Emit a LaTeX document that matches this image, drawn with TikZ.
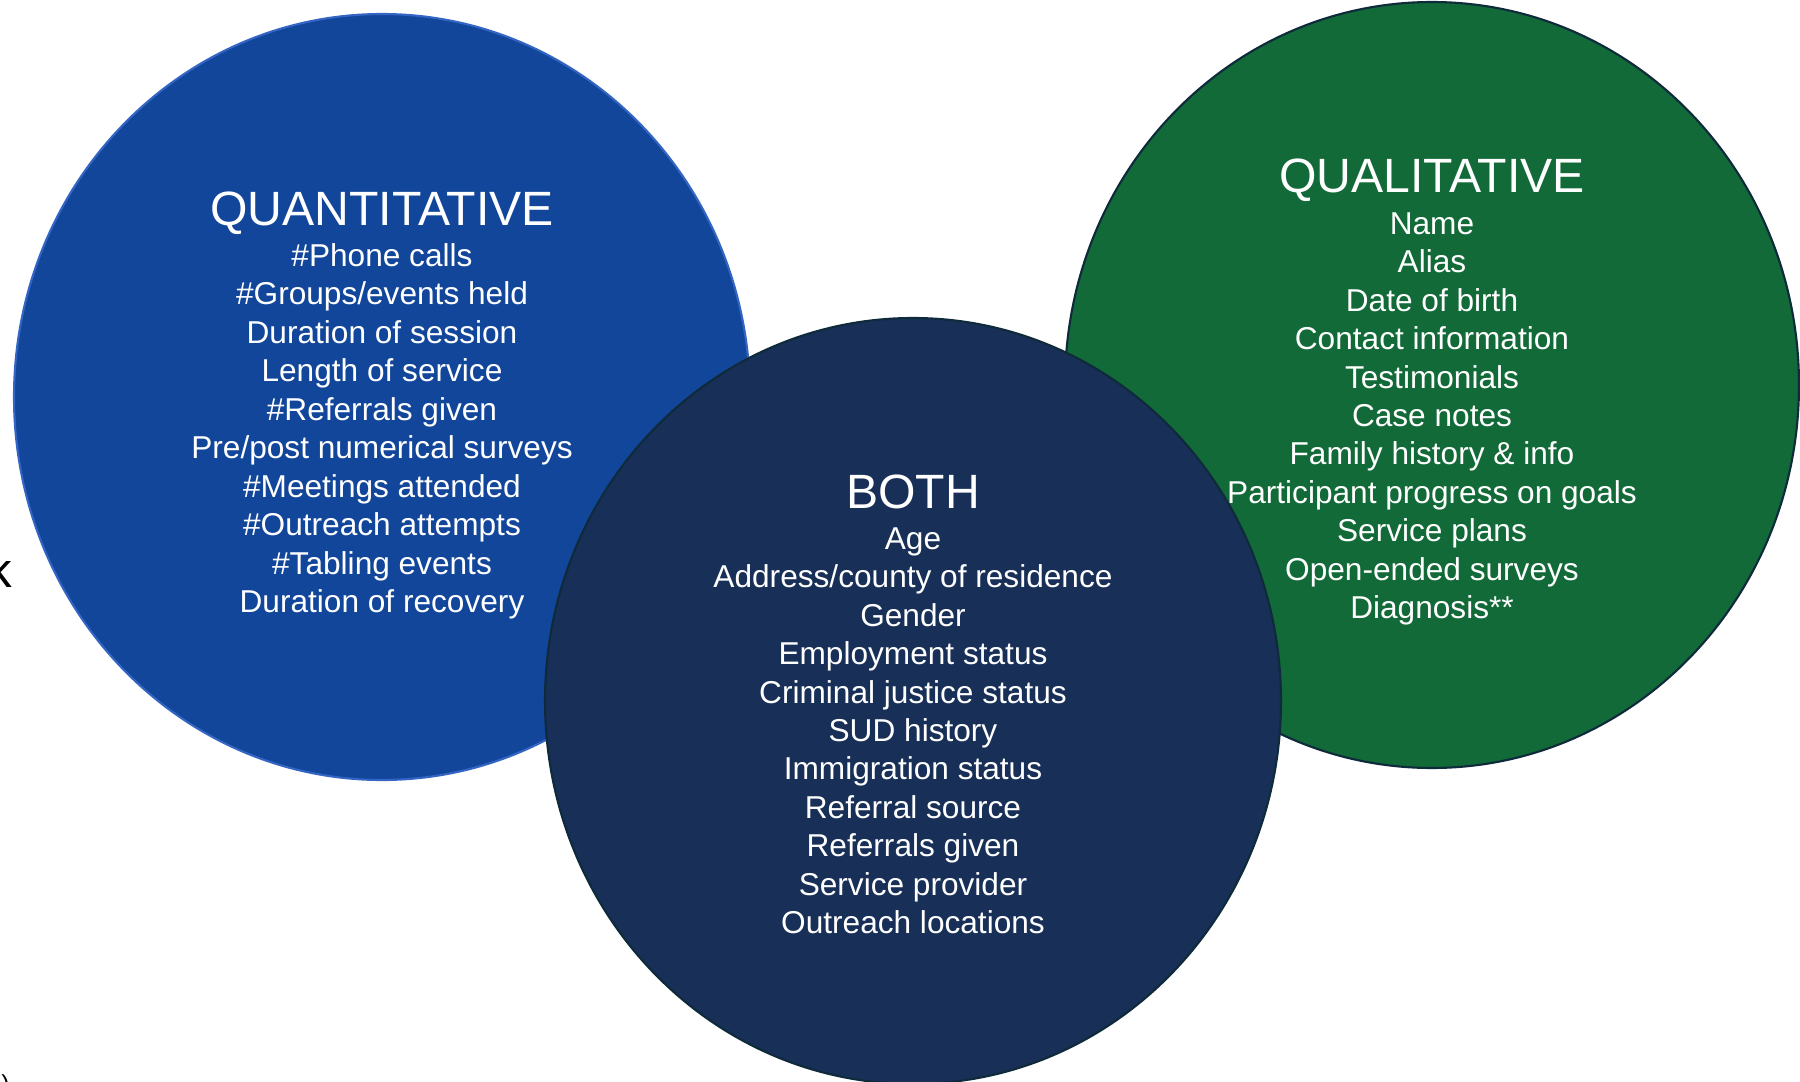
\documentclass[tikz,border=0pt]{standalone}
\usepackage{fontspec}
\setmainfont{Liberation Sans}

\definecolor{quantblue}{HTML}{12469A}
\definecolor{quantedge}{HTML}{3465C4}
\definecolor{bothnavy}{HTML}{182F57}
\definecolor{bothedge}{HTML}{0E2A3B}
\definecolor{qualgreen}{HTML}{116A37}

\tikzset{
    heading/.style={anchor=base, text=white, font=\fontsize{27.4}{30}\selectfont},
    itemlist/.style={anchor=north, align=center, text=white, inner sep=0pt,
        font=\fontsize{18}{21.9}\selectfont},
}

\begin{document}
\begin{tikzpicture}[x=0.02cm, y=-0.02cm]
    \useasboundingbox (0,0) rectangle (1800,1082);

    % the three sets, the middle one on top
    \draw [fill=quantblue, draw=quantedge, line width=1.2pt] (382,397) ellipse [x radius=368, y radius=383];
    \draw [fill=qualgreen, draw=bothedge, line width=1.2pt] (1432,385) ellipse [x radius=367, y radius=383];
    \draw [fill=bothnavy, draw=bothedge, line width=1.2pt] (913,701) ellipse [x radius=368, y radius=383];

    \node (quant) [heading] at (382,225) {QUANTITATIVE};
    \node (quantlist) [itemlist] at (382,243) {\#Phone calls\\ \#Groups/events held\\ Duration of session\\
        Length of service\\ \#Referrals given\\ Pre/post numerical surveys\\ \#Meetings attended\\
        \#Outreach attempts\\ \#Tabling events\\ Duration of recovery};

    \node (qual) [heading] at (1432,192) {QUALITATIVE};
    \node (quallist) [itemlist] at (1432,212) {Name\\ Alias\\ Date of birth\\ Contact information\\
        Testimonials\\ Case notes\\ Family history \& info\\ Participant progress on goals\\
        Service plans\\ Open-ended surveys\\ Diagnosis**};

    \node (both) [heading] at (913,508) {BOTH};
    \node (bothlist) [itemlist] at (913,527) {Age\\ Address/county of residence\\ Gender\\
        Employment status\\ Criminal justice status\\ SUD history\\ Immigration status\\
        Referral source\\ Referrals given\\ Service provider\\ Outreach locations};

    % text cut off at the page edge
    \node (cutk) [anchor=base east, inner sep=0pt, font=\fontsize{28}{30}\selectfont] at (12,587) {k};
    \node (cutparen) [anchor=base east, inner sep=0pt, font=\fontsize{14}{16}\selectfont] at (10,1092) {)};
\end{tikzpicture}
\end{document}
